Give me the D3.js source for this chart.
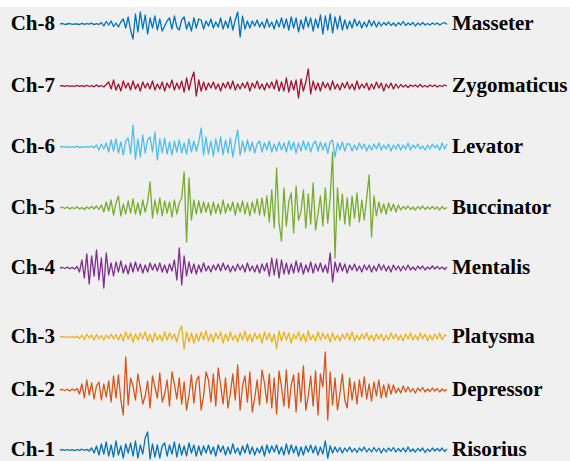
<!DOCTYPE html>
<html>
<head>
<meta charset="utf-8">
<script src="https://cdn.jsdelivr.net/npm/d3@7"></script>
<style>
  html, body { margin: 0; padding: 0; background: #ffffff; }
  svg { display: block; }
</style>
</head>
<body>
<svg id="chart" width="570" height="461"></svg>
<script>
// Surface EMG channels, top to bottom
const channels = ["Ch-8", "Ch-7", "Ch-6", "Ch-5", "Ch-4", "Ch-3", "Ch-2", "Ch-1"];
const muscles = ["Masseter", "Zygomaticus", "Levator", "Buccinator", "Mentalis", "Platysma", "Depressor", "Risorius"];
const colors = ["#0072BD", "#A2142F", "#4DBEEE", "#77AC30", "#7E2F8E", "#EDB120", "#D95319", "#0072BD"];

// Samples per channel (amplitude, µV)
const ch8 = [0,0.5,-0.5,0,0.5,-0.3,0.2,0,-0.5,0.6,-0.4,0.3,-0.2,0.8,-0.6,0.4,-0.5,
  1.5,-2,2.5,-1,3,-2.5,1,-3,2,
  5,-4,7,-6,
  -15,10,-8,12,-5,9,-10,6,-4,8,
  -6,5,-7,-2,3,6,-5,8,-3,-6,4,7,-5,2,-7,6,-4,5,
  4,-5,3,-2,5,-4,2,-3,6,-5,3,-4,7,-6,4,
  12,-13,8,-5,3,
  -4,3,-2,4,-3,2,-4,5,-3,2,-5,4,-3,6,-4,
  5,-6,7,-4,6,-8,4,-5,7,-3,6,-7,5,-4,9,-10,8,-6,10,-9,7,-5,8,
  -6,4,-5,3,-4,5,-2,3,-4,2,-3,4,-2,3,-3,2,
  -2,1.5,-1,2,-1.5,1,-2,1.5,-1,2.5,-1.5,1,-1,1.5,-2,1,-1,1.5,-1,0.5,-1,1,-0.5,1,-1,0.5,1.5,-0.5];

const ch7 = [0,0.4,-0.3,0.5,-0.4,0.2,-0.5,0.6,-0.3,0.4,-0.6,0.8,-0.5,0.3,-0.8,1,-0.6,0.5,-1,1.5,
  4,-3,6,-4,2,-5,5,-2,3,-4,5,-3,2,-5,4,-2,3,-3,5,-4,2,-3,4,-5,3,-2,6,-4,3,-3,
  5,-6,8,-4,7,14,-10,6,-5,4,
  -4,3,-2,4,-3,2,-5,3,-2,4,-3,5,-4,2,-3,3,-2,4,-5,3,-2,5,-3,2,-4,3,-2,4,-3,6,-5,4,
  -5,8,-6,5,-4,6,-12,7,-5,4,17,-8,5,
  -4,3,-5,4,-2,3,-4,5,-3,2,-4,3,-2,4,-3,2,-4,5,-3,2,-2,3,-4,2,-3,4,-2,3,-5,2,-2,3,-3,2,-2,
  1.5,-1,1,-1.5,1,-0.5,1,-1,1.5,-1,0.5,-1,1,-0.5,1,-1,0.5,-0.5,1,0];

const ch6 = [0,0.5,-0.3,0.6,-0.5,0.3,-0.4,0.8,-0.6,0.4,-0.5,0.7,-0.3,1,-0.8,
  2,-3,3,-2,4,
  -5,7,-4,8,-6,5,-8,6,9,-7,
  22,-12,8,-10,12,-6,7,10,-5,15,
  -13,8,-6,9,-7,5,-8,6,-5,7,-6,4,-7,8,-5,6,-4,5,
  19,-8,10,-7,6,-9,8,-5,10,-8,7,-6,9,-10,5,17,
  -8,6,-5,7,-4,5,-6,3,6,-5,4,-3,6,-5,3,-4,5,-3,4,
  -5,6,-3,5,-6,4,-4,6,-3,5,-5,3,6,-4,5,-3,4,-6,5,7,-10,4,-3,5,-4,3,
  3,-4,2,-3,4,-2,3,-4,2,-3,3,-2,4,-3,2,-2,3,-4,2,-2,3,-3,2,-2,4,-3,2,-1,3,-2,1,-3,2,-2,3,-1,2,-3,4,-2,3];

const ch5 = [0,0.8,-0.5,1,-1,0.6,-0.8,1.2,-1,0.5,-1.5,1,-0.6,1.5,-1,2,-1.5,
  3,-4,6,-3,8,-7,5,12,-8,4,-6,7,-5,9,-6,5,-7,8,-4,6,
  26,-10,8,-6,10,-8,7,-5,6,-9,8,-6,5,10,
  36,-34,30,-12,8,
  -6,7,-5,6,-4,5,-7,6,-5,4,-6,8,-5,4,-3,6,-7,5,-4,7,-6,5,-8,6,-5,9,-7,10,-8,12,
  -14,18,-20,40,-15,-33,
  20,-18,6,15,-25,22,-12,-4,18,-20,14,-16,25,-22,-6,12,-18,20,-15,10,
  56,-50,
  20,-12,14,-16,10,-18,12,-10,15,-14,8,-12,10,33,-29,12,-8,
  6,-5,4,-6,5,-3,4,-4,3,
  -2,1.5,-1,2,-1.5,1,-2,1.5,-1,2,-1.5,1,-1,1.5,-1,1,-2,1.5,-1,0.5];

const ch4 = [0,0.5,-0.5,1,-0.8,0.6,-1,1.5,
  -4,8,-10,14,-16,12,-8,18,-12,10,-20,15,-7,
  5,-8,6,-4,7,-5,3,-6,5,-4,6,-3,4,-5,3,-4,5,-2,4,-3,5,-4,3,-5,4,-3,
  8,-12,20,-17,12,-8,
  6,-5,4,-6,3,-4,5,-3,2,-4,3,-2,4,-3,5,-2,3,-4,2,-3,4,-2,3,-4,5,-3,2,-4,3,-5,4,-3,5,
  -8,10,-7,9,-10,8,-6,
  5,-6,4,-5,7,-4,5,-6,3,-4,6,-5,4,-3,5,-4,3,
  -5,15,-14,6,
  -4,5,-3,4,-5,3,-2,4,-3,2,-4,3,-2,3,-4,2,-3,4,-2,3,-3,2,-4,3,-2,2,-3,2,-2,3,-2,1,-2,2,-1,2,-2,1,-1,2,-1,1.5,-1,1,-1.5,1];

const ch3 = [0,0.4,-0.3,0.5,-0.5,0.3,-0.6,0.8,
  -1.5,2,-2.5,3,-1,2,-3,2.5,-2,1.5,-3,2,-1.5,3,-2,2.5,-3,
  3,-4,5,-2,4,-5,3,-3,4,-2,5,-4,3,-5,4,-3,2,-4,5,-3,4,-2,3,-5,
  6,11,-12,5,
  -5,4,-6,3,-4,5,-3,6,-4,3,-5,4,-2,5,-6,3,-4,5,-3,2,-5,4,-3,6,-4,3,-5,4,-2,3,-6,5,-3,4,-5,3,-12,6,
  -4,5,-3,4,-6,3,-2,5,-4,3,-5,6,-3,2,-4,5,-3,4,-2,3,-5,4,-3,2,-4,3,-2,4,-3,5,
  -4,2,-3,3,-2,4,-3,2,-4,3,-2,3,-4,2,-3,4,-2,3,-3,2,-4,3,-2,4,-3,2,-3,4,-2,3,
  -4,2,-3,3,-2,4,-3,2,1];

const ch2 = [0,0.5,-0.5,0.8,-1,1,-0.5,1.5,
  -4,6,-8,10,-5,7,-9,4,8,-10,6,-7,9,
  -12,14,-8,15,-10,-25,
  33,-15,
  12,4,-10,16,2,-14,-6,9,-18,14,3,-8,17,-12,-4,10,-16,18,6,-9,12,-14,8,-20,-5,15,-13,9,
  14,-20,-6,18,10,-12,16,-16,22,5,-14,12,-18,-3,16,-10,25,-20,4,14,-12,18,-22,-8,10,-15,20,7,-13,16,-18,12,-24,19,3,-16,
  20,-18,5,15,-22,17,-12,24,-20,-6,14,-16,19,-25,16,3,38,-30,18,-15,12,-20,-4,16,-10,-18,
  12,-10,8,-14,10,-7,13,-9,6,-11,8,-6,10,-8,5,-7,6,-4,5,
  -3,2,-3,4,-2,3,-2,1.5,-3,2,-1,2.5,-2,1,-1.5,2,-1,1.5,-2,1,-1,0.5];

const ch1 = [0,0.4,-0.3,0.5,-0.4,0.3,-0.6,0.5,-0.3,0.8,-0.5,0.6,-1,
  2,-3,4,-5,6,-4,8,-6,5,-7,9,-5,4,-8,6,-3,7,-6,9,-8,5,-4,12,18,
  -9,6,-7,5,-8,4,7,-6,5,-4,8,-7,6,-5,4,-6,7,-3,5,-6,4,
  -5,4,-3,5,-4,3,-6,5,-2,4,-5,3,-4,6,-3,2,-5,4,-3,6,-4,3,-5,2,-3,4,-6,5,-3,4,-2,5,-4,3,-5,
  6,-4,5,-3,4,-6,3,-5,4,-2,5,-3,4,-5,3,-4,9,-8,4,-3,
  3,-2,2.5,-3,2,-1.5,3,-2,1.5,-2.5,2,-1,3,-2,1.5,-2,2.5,-1.5,2,-3,
  1.5,-2,2,-1,2.5,-2,1.5,-1.5,2,-2,3,-1.5,1,-2,1.5,-1,2,-2.5,1,-1.5,
  2,-1,1.5,-1,2,-1.5,1];

const series = [ch8, ch7, ch6, ch5, ch4, ch3, ch2, ch1];
// Trace baselines (page y) for each channel row
const baselines = [24, 86, 147, 208, 268, 337, 390, 450];

const W = 570, H = 461;
const svg = d3.select("#chart");

svg.append("rect").attr("x", 0).attr("y", 0).attr("width", W).attr("height", H).attr("fill", "#ffffff");
svg.append("rect").attr("x", 0).attr("y", 7).attr("width", W).attr("height", H - 7).attr("fill", "#f0f0f0");

const xLeft = 60, xRight = 447;

series.forEach((vals, k) => {
  const x = d3.scaleLinear().domain([0, vals.length - 1]).range([xLeft, xRight]);
  const y = d3.scaleLinear().domain([-30, 30]).range([baselines[k] + 30, baselines[k] - 30]);
  const line = d3.line().x((d, i) => x(i)).y(d => y(d));

  svg.append("path")
    .datum(vals)
    .attr("d", line)
    .attr("fill", "none")
    .attr("stroke", colors[k])
    .attr("stroke-width", 1.3)
    .attr("stroke-linejoin", "round");

  svg.append("text")
    .attr("x", 55)
    .attr("y", baselines[k] + 5.5)
    .attr("text-anchor", "end")
    .attr("font-family", "'Liberation Serif', 'Times New Roman', serif")
    .attr("font-weight", "bold")
    .attr("font-size", 21)
    .attr("fill", "#000")
    .text(channels[k]);

  svg.append("text")
    .attr("x", 452)
    .attr("y", baselines[k] + 5.5)
    .attr("text-anchor", "start")
    .attr("font-family", "'Liberation Serif', 'Times New Roman', serif")
    .attr("font-weight", "bold")
    .attr("font-size", 21)
    .attr("fill", "#000")
    .text(muscles[k]);
});
</script>
</body>
</html>
